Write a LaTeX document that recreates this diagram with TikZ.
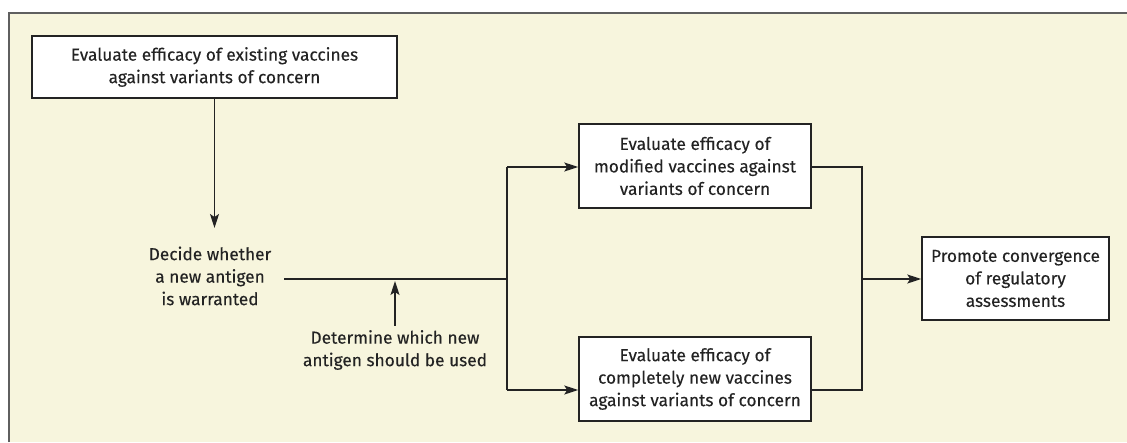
\documentclass[tikz,border=0pt]{standalone}
\usepackage{fontspec}
\setmainfont{Fira Sans}[FakeBold=0.2]
\usetikzlibrary{arrows.meta}
\definecolor{bg}{RGB}{247,245,221}
\definecolor{ink}{RGB}{35,35,35}
\definecolor{frame}{RGB}{95,95,95}
\begin{document}
\begin{tikzpicture}[x=1pt,y=-1pt,
  lbl/.style={align=center, text=ink, font=\fontsize{17.3}{22.5}\selectfont, inner sep=0pt},
  box/.style={lbl, draw=ink, line width=1.5pt, fill=white},
  conn/.style={draw=ink, line width=1.5pt},
  arr/.style={conn, -{Stealth[length=14pt,width=9pt,inset=3pt]}}]
\useasboundingbox (0,0) rectangle (1127,442);
\fill[bg] (9,13) rectangle (1127,442);
\draw[line width=2pt, frame] (9,442) -- (9,13) -- (1127,13);

\node[box, minimum width=365pt, minimum height=62pt] (top) at (214.5,67)
  {Evaluate efficacy of existing vaccines\\against variants of concern};
\node[lbl] (decide) at (210,276) {Decide whether\\a new antigen\\is warranted};
\node[lbl] (determine) at (395,350) {Determine which new\\antigen should be used};
\node[box, minimum width=232pt, minimum height=84pt] (mod) at (695,166)
  {Evaluate efficacy of\\modified vaccines against\\variants of concern};
\node[box, minimum width=232pt, minimum height=84pt] (new) at (695,379)
  {Evaluate efficacy of\\completely new vaccines\\against variants of concern};
\node[box, minimum width=187pt, minimum height=83pt] (prom) at (1015.5,278.5)
  {Promote convergence\\of regulatory\\assessments};

\coordinate (dtip) at (214.5,228);
\coordinate (lstart) at (284,279);
\coordinate (split) at (507,279);
\coordinate (splittop) at (507,167);
\coordinate (splitbot) at (507,390);
\coordinate (utip) at (395,281);
\coordinate (mergetop) at (862,167);
\coordinate (mergebot) at (862,390);
\coordinate (merge) at (862,279);

\draw[arr] (top.south) -- (dtip);
\draw[conn] (lstart) -- (split);
\draw[arr] ([yshift=4pt]determine.north) -- (utip);
\draw[conn] (splittop) -- (splitbot);
\draw[arr] (splittop) -- (mod.west |- splittop);
\draw[arr] (splitbot) -- (new.west |- splitbot);
\draw[conn] (mod.east |- mergetop) -- (mergetop) -- (mergebot) -- (new.east |- mergebot);
\draw[arr] (merge) -- (prom.west |- merge);
\end{tikzpicture}
\end{document}
